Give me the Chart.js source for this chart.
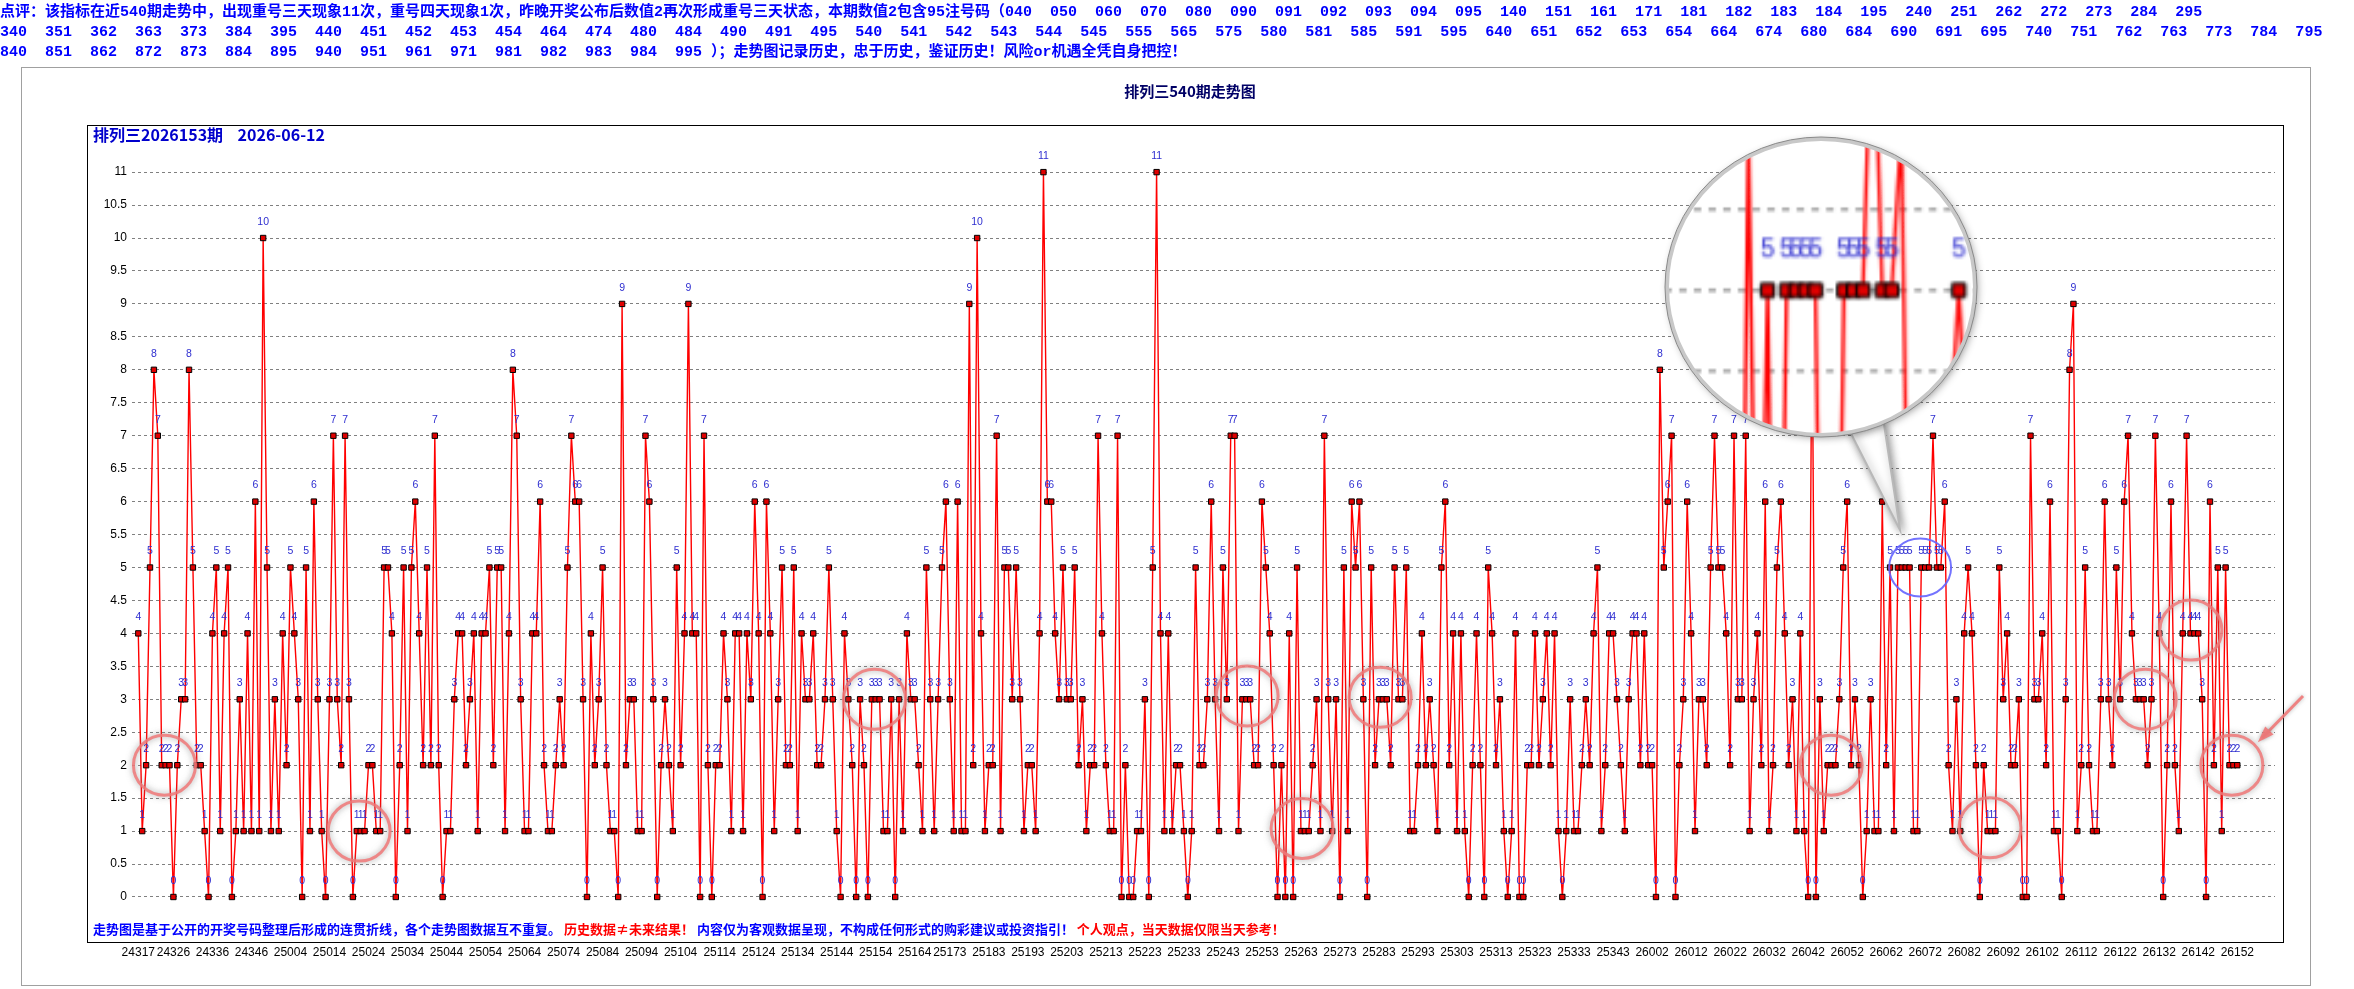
<!DOCTYPE html>
<html>
<head>
<meta charset="utf-8">
<script src="https://cdn.jsdelivr.net/npm/chart.js@4.4.1/dist/chart.umd.min.js"></script>
<style>
html, body { margin: 0; padding: 0; background: #fff; }
#wrap { position: relative; width: 2354px; height: 989px; overflow: hidden; }
#myChart { position: absolute; left: 0; top: 0; }
#note { position: absolute; left: 0; top: 3px; width: 2354px; color: #0000ff;
  font: bold 15px "Liberation Mono", "Noto Sans CJK SC", monospace; line-height: 20px; white-space: pre; }
</style>
</head>
<body>
<div id="wrap">
<canvas id="myChart" width="2354" height="989"></canvas>
<div id="note">点评：该指标在近540期走势中，出现重号三天现象11次，重号四天现象1次，昨晚开奖公布后数值2再次形成重号三天状态，本期数值2包含95注号码（040  050  060  070  080  090  091  092  093  094  095  140  151  161  171  181  182  183  184  195  240  251  262  272  273  284  295
340  351  362  363  373  384  395  440  451  452  453  454  464  474  480  484  490  491  495  540  541  542  543  544  545  555  565  575  580  581  585  591  595  640  651  652  653  654  664  674  680  684  690  691  695  740  751  762  763  773  784  795
840  851  862  872  873  884  895  940  951  961  971  981  982  983  984  995 ）；走势图记录历史，忠于历史，鉴证历史！风险or机遇全凭自身把控！</div>
</div>
<script>
// issue numbers shown on the x axis (one category per draw)
const issueRanges = [[24317, 24352], [25001, 25351], [26001, 26152]];
const issues = [];
issueRanges.forEach(([a, b]) => { for (let n = a; n <= b; n++) issues.push(String(n)); });

// labels printed under the axis
const tickLabels = ['24317','24326','24336','24346','25004','25014','25024','25034','25044','25054',
  '25064','25074','25084','25094','25104','25114','25124','25134','25144','25154','25164','25173',
  '25183','25193','25203','25213','25223','25233','25243','25253','25263','25273','25283','25293',
  '25303','25313','25323','25333','25343','26002','26012','26022','26032','26042','26052','26062',
  '26072','26082','26092','26102','26112','26122','26132','26142','26152'];

// value of every draw
const values = [
  4,1,2,5,8,7,2,2,2,0, 2,3,3,8,5,2,2,1,0,4, 5,1,4,5,0,1,3,1,4,1, 6,1,10,5,1,3,1,4,2,5,
  4,3,0,5,1,6,3,1,0,3, 7,3,2,7,3,0,1,1,1,2, 2,1,1,5,5,4,0,2,5,1, 5,6,4,2,5,2,7,2,0,1,
  1,3,4,4,2,3,4,1,4,4, 5,2,5,5,1,4,8,7,3,1, 1,4,4,6,2,1,1,2,3,2, 5,7,6,6,3,0,4,2,3,5,
  2,1,1,0,9,2,3,3,1,1, 7,6,3,0,2,3,2,1,5,2, 4,9,4,4,0,7,2,0,2,2, 4,3,1,4,4,1,4,3,6,4,
  0,6,4,1,3,5,2,2,5,1, 4,3,3,4,2,2,3,5,3,1, 0,4,3,2,0,3,2,0,3,3, 3,1,1,3,0,3,1,4,3,3,
  2,1,5,3,1,3,5,6,3,1, 6,1,1,9,2,10,4,1,2,2, 7,1,5,5,3,5,3,1,2,2, 1,4,11,6,6,4,3,5,3,3,
  5,2,3,1,2,2,7,4,2,1, 1,7,0,2,0,0,1,1,3,0, 5,11,4,1,4,1,2,2,1,0, 1,5,2,2,3,6,3,1,5,3,
  7,7,1,3,3,3,2,2,6,5, 4,2,0,2,0,4,0,5,1,1, 1,2,3,1,7,3,1,3,0,5, 1,6,5,6,3,0,5,2,3,3,
  3,2,5,3,3,5,1,1,2,4, 2,3,2,1,5,6,2,4,1,4, 1,0,2,4,2,0,5,4,2,3, 1,0,1,4,0,0,2,2,4,2,
  3,4,2,4,1,0,1,3,1,1, 2,3,2,4,5,1,2,4,4,3, 2,1,3,4,4,2,4,2,2,0, 8,5,6,7,0,2,3,6,4,1,
  3,3,2,5,7,5,5,4,2,7, 3,3,7,1,3,4,2,6,1,2, 5,6,4,2,3,1,4,1,0,9, 0,3,1,2,2,2,3,5,6,2,
  3,2,0,1,3,1,1,6,2,5, 1,5,5,5,5,1,1,5,5,5, 7,5,5,6,2,1,3,1,4,5, 4,2,0,2,1,1,1,5,3,4,
  2,2,3,0,0,7,3,3,4,2, 6,1,1,0,3,8,9,1,2,5, 2,1,1,3,6,3,2,5,3,6, 7,4,3,3,3,2,3,7,4,0,
  2,6,2,1,4,7,4,4,4,3, 0,6,2,5,1,5,2,2,2
];

// y axis ticks
const yTickValues = [0,0.5,1,1.5,2,2.5,3,3.5,4,4.5,5,5.5,6,6.5,7,7.5,8,8.5,9,9.5,10,10.5,11];

// marked runs of repeated numbers: [category index, value]
const redRings = [[6.7,2],[56.6,1],[188.7,3],[284.2,3.05],[298.3,1.04],[318.3,3.03],
  [433.9,2],[474.6,1.05],[514.4,3],[526.1,4.05],[536.6,2]];
const blueRing = [456.7,5];
const lensFocus = [454.6,5.02];

const tickIdx = tickLabels.map(t => issues.indexOf(t));

const decor = {
  id: 'decor',
  beforeDraw(c) {
    const g = c.ctx;
    g.save();
    g.fillStyle = '#fff';
    g.fillRect(0, 0, c.width, c.height);
    g.strokeStyle = '#a0a0a0';
    g.lineWidth = 1;
    g.strokeRect(21.5, 67.5, 2289, 918);
    g.strokeStyle = '#000';
    g.strokeRect(87.5, 125.5, 2196, 817);
    // title
    g.fillStyle = '#000066';
    g.font = 'bold 15px "Noto Sans CJK SC"';
    g.textAlign = 'center';
    g.textBaseline = 'middle';
    g.fillText('排列三540期走势图', 1190, 91);
    g.textAlign = 'left';
    g.fillStyle = '#0000cc';
    g.font = 'bold 16px "Noto Sans CJK SC"';
    g.fillText('排列三2026153期    2026-06-12', 93, 135);
    // footer inside the frame
    g.font = 'bold 13px "Noto Sans CJK SC"';
    const parts = [
      ['走势图是基于公开的开奖号码整理后形成的连贯折线，各个走势图数据互不重复。', '#0000ff'],
      [' 历史数据≠未来结果！', '#ff0000'],
      [' 内容仅为客观数据呈现，不构成任何形式的购彩建议或投资指引！', '#0000ff'],
      [' 个人观点，当天数据仅限当天参考！', '#ff0000']
    ];
    let x = 93;
    parts.forEach(([t, col]) => { g.fillStyle = col; g.fillText(t, x, 929); x += g.measureText(t).width; });
    g.restore();
  },
  afterDatasetsDraw(c) {
    const g = c.ctx;
    const pts = c.getDatasetMeta(0).data;
    g.save();
    g.font = '10.5px "Liberation Sans"';
    g.fillStyle = '#2e2ed0';
    g.textAlign = 'center';
    g.textBaseline = 'middle';
    pts.forEach((p, i) => g.fillText(String(values[i]), p.x, p.y - 16));
    g.restore();
  },
  afterDraw(c) {
    const g = c.ctx, xs = c.scales.x, ys = c.scales.y;
    // magnifier lens copied from the drawn chart
    const zoom = 2.45, lcx = 1821, lcy = 287, lrx = 154, lry = 148;
    const fx = xs.getPixelForValue(lensFocus[0]), fy = ys.getPixelForValue(lensFocus[1]);
    const sw = 2 * lrx / zoom, sh = 2 * lry / zoom;
    const src = document.createElement('canvas');
    src.width = Math.round(sw); src.height = Math.round(sh);
    src.getContext('2d').drawImage(c.canvas, fx - sw / 2, fy - sh / 2, sw, sh, 0, 0, src.width, src.height);

    // rings
    g.save();
    g.shadowColor = 'rgba(120,120,120,0.8)';
    g.shadowBlur = 6;
    g.strokeStyle = 'rgba(240,120,120,0.85)';
    g.lineWidth = 3;
    redRings.forEach(([i, v]) => {
      g.beginPath();
      g.ellipse(xs.getPixelForValue(i), ys.getPixelForValue(v), 31, 30, 0, 0, Math.PI * 2);
      g.stroke();
    });
    g.shadowBlur = 0;
    g.strokeStyle = 'rgba(100,100,255,0.9)';
    g.lineWidth = 2;
    g.beginPath();
    g.ellipse(xs.getPixelForValue(blueRing[0]), ys.getPixelForValue(blueRing[1]), 31, 29, 0, 0, Math.PI * 2);
    g.stroke();

    // arrow pointing at the latest run
    g.strokeStyle = 'rgba(240,120,120,0.9)';
    g.fillStyle = 'rgba(240,120,120,0.9)';
    g.shadowColor = 'rgba(120,120,120,0.6)';
    g.shadowBlur = 4;
    g.lineWidth = 3;
    const ax0 = 2303, ay0 = 696, ax1 = 2262, ay1 = 738;
    g.beginPath(); g.moveTo(ax0, ay0); g.lineTo(ax1, ay1); g.stroke();
    const ang = Math.atan2(ay1 - ay0, ax1 - ax0);
    g.beginPath();
    g.moveTo(ax1 + 6 * Math.cos(ang), ay1 + 6 * Math.sin(ang));
    g.lineTo(ax1 - 12 * Math.cos(ang - 0.5), ay1 - 12 * Math.sin(ang - 0.5));
    g.lineTo(ax1 - 12 * Math.cos(ang + 0.5), ay1 - 12 * Math.sin(ang + 0.5));
    g.closePath(); g.fill();
    g.restore();

    // lens pointer
    const t1 = 79 * Math.PI / 180, t2 = 66 * Math.PI / 180;
    g.save();
    g.shadowColor = 'rgba(0,0,0,0.45)';
    g.shadowBlur = 8; g.shadowOffsetX = 2; g.shadowOffsetY = 2;
    g.fillStyle = '#fff';
    g.strokeStyle = '#b8b8b8';
    g.lineWidth = 2;
    g.beginPath();
    g.moveTo(lcx + lrx * Math.cos(t1), lcy + lry * Math.sin(t1));
    g.lineTo(1900, 530);
    g.lineTo(lcx + lrx * Math.cos(t2), lcy + lry * Math.sin(t2));
    g.closePath();
    g.fill(); g.stroke();
    // lens body
    g.beginPath();
    g.ellipse(lcx, lcy, lrx, lry, 0, 0, Math.PI * 2);
    g.fill();
    g.restore();
    g.save();
    g.beginPath();
    g.ellipse(lcx, lcy, lrx, lry, 0, 0, Math.PI * 2);
    g.clip();
    g.imageSmoothingEnabled = true;
    g.drawImage(src, 0, 0, src.width, src.height, lcx - lrx, lcy - lry, 2 * lrx, 2 * lry);
    g.restore();
    g.save();
    g.strokeStyle = '#c8c8c8';
    g.lineWidth = 4;
    g.beginPath();
    g.ellipse(lcx, lcy, lrx, lry, 0, 0, Math.PI * 2);
    g.stroke();
    g.strokeStyle = '#8a8a8a';
    g.lineWidth = 1;
    g.beginPath();
    g.ellipse(lcx, lcy, lrx + 2, lry + 2, 0, 0, Math.PI * 2);
    g.stroke();
    g.restore();
  }
};

const data = {
  datasets: [{
    data: values.map((v, i) => ({ x: i, y: v })),
    borderColor: '#ff0000',
    borderWidth: 1.4,
    pointStyle: 'rect',
    pointRadius: 3.8,
    pointBackgroundColor: '#e00000',
    pointBorderColor: '#000',
    pointBorderWidth: 1,
    tension: 0
  }]
};

const config = {
  type: 'line',
  data: data,
  options: {
    responsive: false,
    animation: false,
    devicePixelRatio: 1,
    events: [],
    layout: { padding: { left: 87, right: 79, top: 125, bottom: 0 } },
    plugins: { legend: { display: false }, tooltip: { enabled: false } },
    scales: {
      x: {
        type: 'linear',
        min: -1.615,
        max: 547.66,
        afterFit(s) { s.height = 47; },
        afterBuildTicks(s) { s.ticks = tickIdx.map(v => ({ value: v })); },
        ticks: {
          autoSkip: false, maxRotation: 0, padding: 3,
          callback: v => issues[v],
          color: '#000', font: { family: 'Liberation Sans', size: 12 }
        },
        grid: { display: false, drawTicks: false },
        border: { display: false }
      },
      y: {
        min: -0.683,
        max: 11.715,
        afterFit(s) { s.width = 45; },
        afterBuildTicks(s) { s.ticks = yTickValues.map(v => ({ value: v })); },
        ticks: {
          padding: 5, callback: v => String(v),
          color: '#000', font: { family: 'Liberation Sans', size: 12 }
        },
        grid: { color: '#808080', lineWidth: 1, drawTicks: false },
        border: { display: false, dash: [3, 3] }
      }
    }
  },
  plugins: [decor]
};

const ctx = document.getElementById('myChart').getContext('2d');
const myChart = new Chart(ctx, config);
</script>
</body>
</html>
